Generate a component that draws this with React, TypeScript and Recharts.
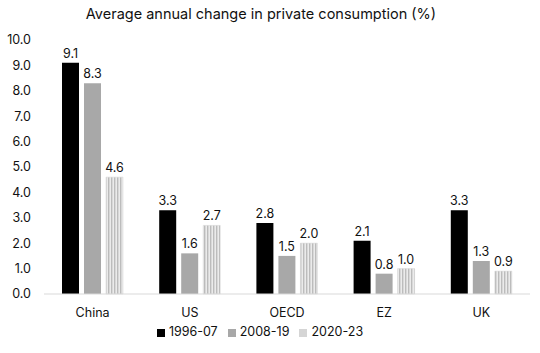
import React from "react";
import { BarChart, Bar, XAxis, YAxis, Legend, LabelList } from "recharts";

const categories = ["China", "US", "OECD", "EZ", "UK"];
const s1996 = [9.1, 3.3, 2.8, 2.1, 3.3];
const s2008 = [8.3, 1.6, 1.5, 0.8, 1.3];
const s2020 = [4.6, 2.7, 2.0, 1.0, 0.9];
const yTicks = [0, 1, 2, 3, 4, 5, 6, 7, 8, 9, 10];

const data = categories.map((c, i) => ({
  name: c,
  a: s1996[i],
  b: s2008[i],
  c: s2020[i],
}));

const FONT = "Inter, 'Noto Sans', sans-serif";
const fmt = (v: any) => Number(v).toFixed(1);

export default function App() {
  return (
    <div style={{ position: "absolute", left: 0, top: 0, width: 540, height: 353, background: "#fff", fontFamily: FONT }}>
      <div
        style={{
          position: "absolute",
          top: 5,
          left: 0,
          width: 522,
          textAlign: "center",
          fontSize: 14.5,
          color: "#111",
          fontFamily: FONT,
        }}
      >
        Average annual change in private consumption (%)
      </div>
      <BarChart
        width={540}
        height={353}
        data={data}
        margin={{ top: 40, right: 10, left: 0, bottom: 5 }}
        barSize={17}
        barGap={5}
      >
        <defs>
          <pattern id="stripes" patternUnits="userSpaceOnUse" width="3" height="4">
            <rect x="0" y="0" width="3" height="4" fill="#ebebeb" />
            <rect x="0" y="0" width="1.4" height="4" fill="#bcbcbc" />
          </pattern>
        </defs>
        <XAxis
          dataKey="name"
          axisLine={{ stroke: "#d9d9d9" }}
          tickLine={false}
          tick={{ fill: "#111", fontSize: 12.5, fontFamily: FONT }}
          tickMargin={8}
          height={30}
        />
        <YAxis
          domain={[0, 10]}
          ticks={yTicks}
          tickFormatter={fmt}
          axisLine={false}
          tickLine={false}
          width={44}
          tickMargin={7}
          tick={{ fill: "#111", fontSize: 12.5, fontFamily: FONT }}
          interval={0}
        />
        <Legend
          verticalAlign="bottom"
          height={24}
          iconType="square"
          iconSize={8}
          wrapperStyle={{ fontSize: 12.5, fontFamily: FONT, color: "#111" }}
          formatter={(v: any) => <span style={{ color: "#111" }}>{v}</span>}
        />
        <Bar dataKey="a" name="1996-07" fill="#000" isAnimationActive={false}>
          <LabelList dataKey="a" position="top" offset={5} formatter={fmt} style={{ fill: "#111", fontSize: 12.5, fontFamily: FONT }} />
        </Bar>
        <Bar dataKey="b" name="2008-19" fill="#a8a8a8" isAnimationActive={false}>
          <LabelList dataKey="b" position="top" offset={5} formatter={fmt} style={{ fill: "#111", fontSize: 12.5, fontFamily: FONT }} />
        </Bar>
        <Bar dataKey="c" name="2020-23" fill="url(#stripes)" stroke="#d0d0d0" strokeWidth={0.5} isAnimationActive={false}>
          <LabelList dataKey="c" position="top" offset={5} formatter={fmt} style={{ fill: "#111", fontSize: 12.5, fontFamily: FONT }} />
        </Bar>
      </BarChart>
    </div>
  );
}
